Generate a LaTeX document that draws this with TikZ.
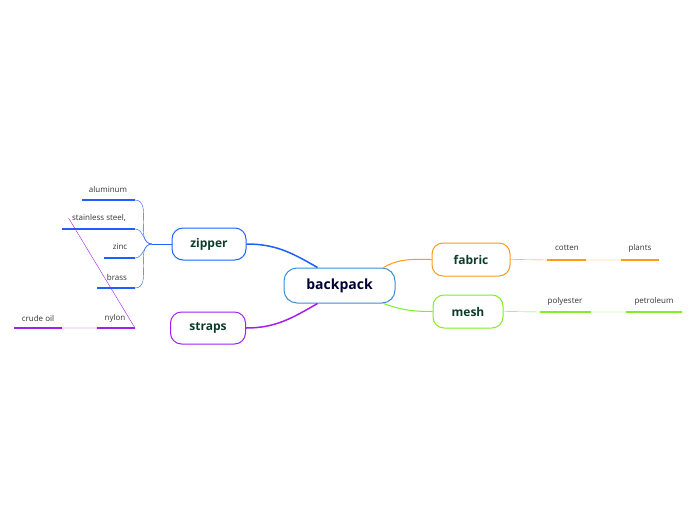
\documentclass[tikz,border=0pt]{standalone}
\usepackage{fontspec}
\setmainfont{Open Sans}
\definecolor{cb}{HTML}{1F5FFF}
\definecolor{cp}{HTML}{A020F0}
\definecolor{co}{HTML}{FF9A1A}
\definecolor{cg}{HTML}{80EE20}
\definecolor{cc}{HTML}{3A8FD0}
\definecolor{tg}{HTML}{0D3D2E}
\begin{document}
\begin{tikzpicture}[x=1pt,y=-1pt,
  topic/.style={draw,line width=1pt,rounded corners=11pt,minimum height=32pt,inner sep=0pt,font=\bfseries\fontsize{12}{14}\selectfont,text=tg,fill=white},
  leaf/.style={font=\fontsize{8}{10}\selectfont,text=black!80},
  under/.style={line width=2pt}]
\useasboundingbox (0,0) rectangle (696,520);
\node[topic,draw=cc,minimum width=111pt,minimum height=35pt,rounded corners=13pt,text=blue!20!black,font=\bfseries\fontsize{14}{16}\selectfont] (bp) at (339.5,285.5) {backpack};
\node[topic,draw=cb,minimum width=74pt] (zi) at (209,244) {zipper};
\node[topic,draw=cp,minimum width=75pt] (st) at (208,328) {straps};
\node[topic,draw=co,minimum width=78pt,minimum height=33pt] (fa) at (471,259.5) {fabric};
\node[topic,draw=cg,minimum width=70pt,minimum height=33pt] (me) at (468,311.5) {mesh};
% main connectors
\draw[cb,line width=1.5pt] ([xshift=-22pt]bp.north) to[out=150,in=0] (zi.east);
\draw[cp,line width=1.5pt] ([xshift=-22pt]bp.south) to[out=210,in=0] (st.east);
\draw[co,line width=1pt] ([xshift=44pt]bp.north) to[out=30,in=180] (fa.west);
\draw[cg,line width=1pt] ([xshift=44pt]bp.south) to[out=-20,in=180] (me.west);
% zipper leaves
\coordinate (j) at (152,244);
\draw[cb,line width=0.8pt] (zi.west) -- (j);
\foreach \n/\t/\xa/\y/\tx in {a/aluminum/82/200/108,s/{stainless steel,}/62/229/99,z/zinc/104/258/120,b/brass/97/288/117}{
  \coordinate (\n1) at (\xa,\y); \coordinate (\n2) at (135,\y);
  \draw[cb,under] (\n1) -- (\n2);
  \node[leaf] (\n t) at (\tx,\y-11) {\t};
  \draw[cb,line width=0.4pt] (j) to[out=180,in=0,looseness=1] (\n2);
}
% straps leaves
\coordinate (ny1) at (97,328); \coordinate (ny2) at (135,328);
\coordinate (cr1) at (14,328); \coordinate (cr2) at (62,328);
\draw[cp,under] (ny1) -- (ny2); \draw[cp,under] (cr1) -- (cr2);
\draw[cp,line width=0.4pt] (st.west) -- (ny2) (ny1) -- (cr2);
\node[leaf] (nyt) at (115,318) {nylon};
\node[leaf] (crt) at (38,318) {crude oil};
% fabric leaves
\coordinate (c1) at (547,260); \coordinate (c2) at (586,260);
\coordinate (p1) at (621,260); \coordinate (p2) at (659,260);
\draw[co,under] (c1) -- (c2); \draw[co,under] (p1) -- (p2);
\draw[co,line width=0.4pt] (fa.east) -- (c1) (c2) -- (p1);
\node[leaf] (ct) at (567,248) {cotten};
\node[leaf] (pt) at (640,248) {plants};
% mesh leaves
\coordinate (q1) at (540,312); \coordinate (q2) at (591,312);
\coordinate (r1) at (626,312); \coordinate (r2) at (682,312);
\draw[cg,under] (q1) -- (q2); \draw[cg,under] (r1) -- (r2);
\draw[cg,line width=0.4pt] (me.east) -- (q1) (q2) -- (r1);
\node[leaf] (qt) at (565,301) {polyester};
\node[leaf] (rt) at (654,301) {petroleum};
\end{tikzpicture}
\end{document}
